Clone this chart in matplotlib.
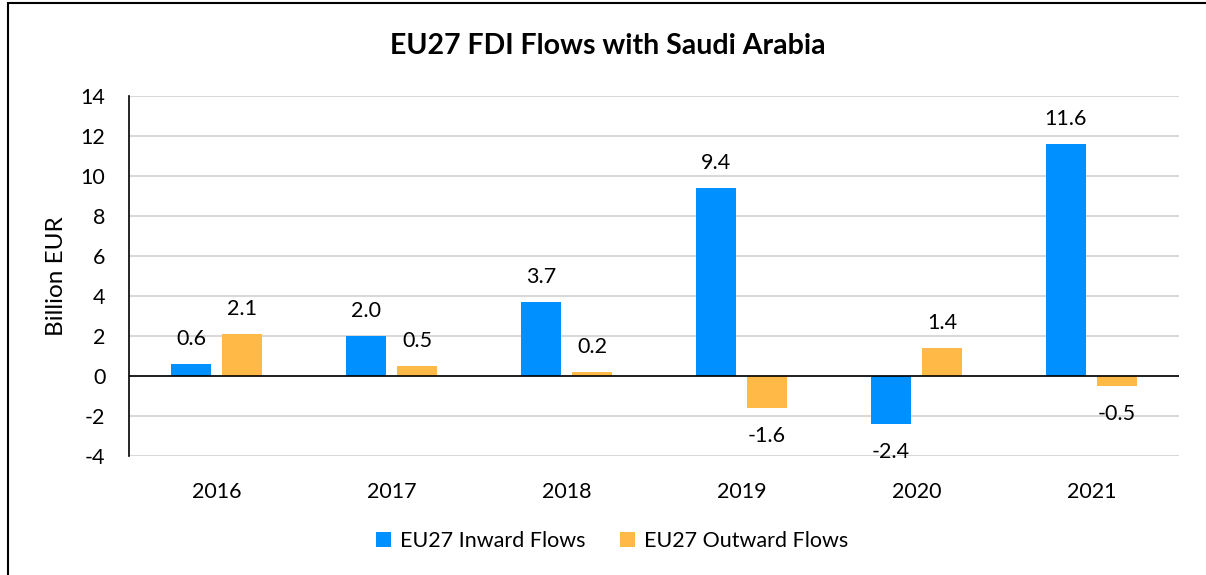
import numpy as np
import matplotlib.pyplot as plt
from matplotlib.patches import Rectangle

# dati (miliardi di EUR)
years = ["2016", "2017", "2018", "2019", "2020", "2021"]
inward = [0.6, 2.0, 3.7, 9.4, -2.4, 11.6]
outward = [2.1, 0.5, 0.2, -1.6, 1.4, -0.5]

BLUE = "#0090FF"
ORANGE = "#FFB946"

plt.rcParams["font.family"] = ["Lato", "DejaVu Sans"]
plt.rcParams["axes.unicode_minus"] = False

fig = plt.figure(figsize=(12.06, 5.75), dpi=100)
W, H = 1206, 575
ax = fig.add_axes([129 / W, 1 - 456 / H, (1179 - 129) / W, (456 - 96) / H])

# cornice del grafico (solo lati sinistro e superiore visibili)
fig.patches.append(Rectangle((8 / W, -0.05), 1.2, 1 - 3 / H + 0.05, transform=fig.transFigure,
                             fill=False, edgecolor="black", linewidth=1.5))

x = np.arange(len(years))
bw = 0.229
off = 0.146
ax.bar(x - off, inward, bw, color=BLUE, label="EU27 Inward Flows", zorder=3)
ax.bar(x + off, outward, bw, color=ORANGE, label="EU27 Outward Flows", zorder=3)

# etichette dei valori
for xs, vals in ((x - off, inward), (x + off, outward)):
    for xi, v in zip(xs, vals):
        dy = 18 if v >= 0 else -20
        ax.annotate(f"{v:.1f}", (xi, v), xytext=(0, dy), textcoords="offset points",
                    ha="center", va="center", fontsize=15.5)

ax.set_xlim(-0.5, len(years) - 0.5)
ax.set_ylim(-4, 14)
ax.set_yticks(np.arange(-4, 15, 2))
ax.set_xticks(x)
ax.set_xticklabels(years)
ax.tick_params(axis="both", length=0, labelsize=15.5)
ax.tick_params(axis="x", pad=19)
ax.tick_params(axis="y", pad=17)
ax.yaxis.grid(True, color="#d9d9d9", linewidth=1.5, zorder=0)
ax.axhline(0, color="black", linewidth=1.2, zorder=4)
for s in ("top", "right", "bottom"):
    ax.spines[s].set_visible(False)
ax.spines["left"].set_linewidth(1.2)
ax.set_ylabel("Billion EUR", fontsize=17.5, labelpad=10)

fig.text(608 / W, 1 - 46 / H, "EU27 FDI Flows with Saudi Arabia", ha="center", va="center",
         fontsize=20.5, fontweight="bold")

fig.legend(loc="center", bbox_to_anchor=(612 / W, 1 - 541 / H), ncol=2, frameon=False,
           fontsize=15.5, handlelength=0.7, handleheight=0.7, columnspacing=1.6, handletextpad=0.4)

fig.savefig("out.png", dpi=100)
